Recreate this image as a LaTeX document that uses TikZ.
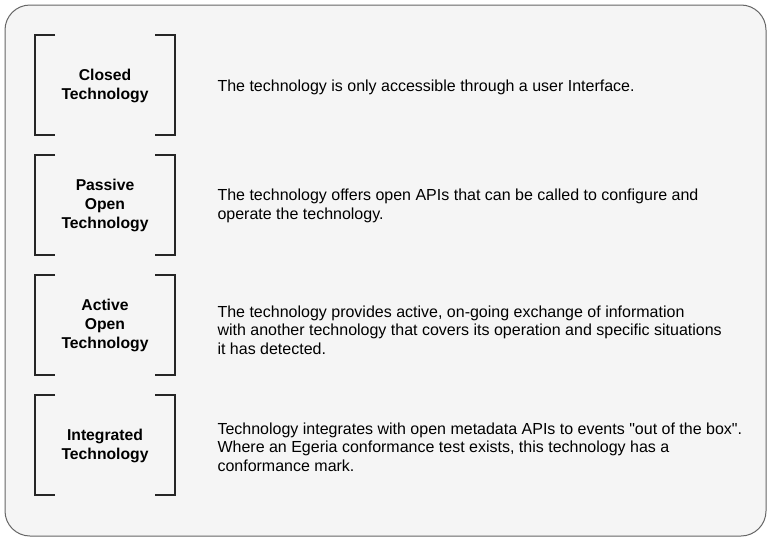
\documentclass[tikz,border=0pt]{standalone}
\usepackage{fontspec}
\setmainfont{Liberation Sans}[Ligatures=TeXOff]
\begin{document}
\begin{tikzpicture}[x=1pt,y=-1pt,
  bracket/.style={line width=1.8pt,draw=black!85},
  kind/.style={font=\bfseries\fontsize{15.7}{19}\selectfont,align=center},
  desc/.style={anchor=west,font=\fontsize{16}{18.7}\selectfont,align=left}]
  \useasboundingbox (0,0) rectangle (771,541);
  \draw[draw=black!60,fill=black!4,line width=1pt,rounded corners=25pt] (5,5) rectangle (766,536);
  \foreach \y in {35,155,275,395} {
    \draw[bracket] (55,\y) -| (35,\y+100) -- (55,\y+100);
    \draw[bracket] (155,\y) -| (175,\y+100) -- (155,\y+100);
  }
  \node[kind] (closed) at (105,86) {Closed\\Technology};
  \node[kind] (passive) at (105,205) {Passive\\Open\\Technology};
  \node[kind] (active) at (105,325) {Active\\Open\\Technology};
  \node[kind] (integrated) at (105,446) {Integrated\\Technology};
  \node[desc] (closedtxt) at (214,87) {The technology is only accessible through a user Interface.};
  \node[desc] (passivetxt) at (214,206) {The technology offers open APIs that can be called to configure and\\operate the technology.};
  \node[desc] (activetxt) at (214,330) {The technology provides active, on-going exchange of information\\with another technology that covers its operation and specific situations\\it has detected.};
  \node[desc] (integratedtxt) at (214,447) {Technology integrates with open metadata APIs to events "out of the box".\\Where an Egeria conformance test exists, this technology has a\\conformance mark.};
\end{tikzpicture}
\end{document}
